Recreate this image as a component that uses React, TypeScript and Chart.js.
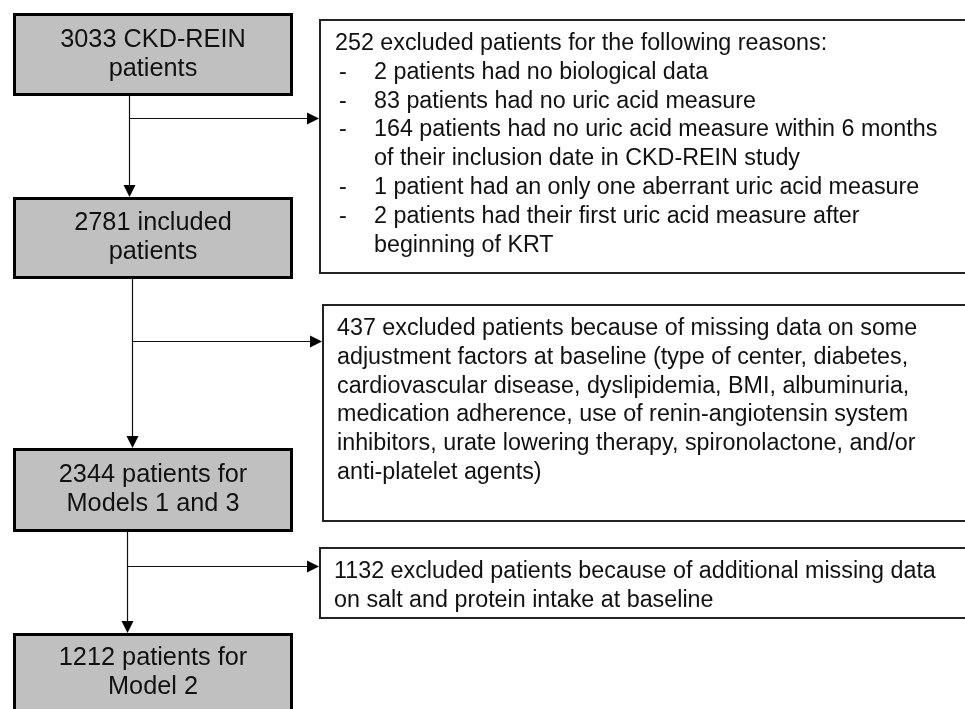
import React, { useEffect, useRef } from "react";
import { Chart, registerables } from "chart.js";

Chart.register(...registerables);

// ---- content ----
const mainBoxText: string[][] = [
  ["3033 CKD-REIN", "patients"],
  ["2781 included", "patients"],
  ["2344 patients for", "Models 1 and 3"],
  ["1212 patients for", "Model 2"],
];

// "-|" = bullet line, ">|" = indented continuation line
const exclusionText1: string[] = [
  "252 excluded patients for the following reasons:",
  "-|2 patients had no biological data",
  "-|83 patients had no uric acid measure",
  "-|164 patients had no uric acid measure within 6 months",
  ">|of their inclusion date in CKD-REIN study",
  "-|1 patient had an only one aberrant uric acid measure",
  "-|2 patients had their first uric acid measure after",
  ">|beginning of KRT",
];
const exclusionText2: string[] = [
  "437 excluded patients because of missing data on some",
  "adjustment factors at baseline (type of center, diabetes,",
  "cardiovascular disease, dyslipidemia, BMI, albuminuria,",
  "medication adherence, use of renin-angiotensin system",
  "inhibitors, urate lowering therapy, spironolactone, and/or",
  "anti-platelet agents)",
];
const exclusionText3: string[] = [
  "1132 excluded patients because of additional missing data",
  "on salt and protein intake at baseline",
];
const exclusionTexts = [exclusionText1, exclusionText2, exclusionText3];

// ---- layout (in scale units, 0..965 x 0..709) ----
const mainBoxLayout = [
  { x0: 13, x1: 293, y0: 13, y1: 96 },
  { x0: 13, x1: 293, y0: 197, y1: 279 },
  { x0: 13, x1: 293, y0: 448, y1: 532 },
  { x0: 13, x1: 293, y0: 633, y1: 713 },
];
const exclBoxLayout = [
  { x0: 319, x1: 975, y0: 19, y1: 274, tx: 335 },
  { x0: 322, x1: 975, y0: 304, y1: 522, tx: 337 },
  { x0: 319, x1: 975, y0: 547, y1: 619, tx: 334 },
];
const connectorLayout = [
  { x: 129, branchY: 118 },
  { x: 132, branchY: 341 },
  { x: 127, branchY: 566 },
];

const FONT = "'Liberation Sans', Arial, Helvetica, sans-serif";
const MAIN_FONT_SIZE = 25.3;
const EXCL_FONT_SIZE = 23.3;
const MAIN_LINE_H = 29;
const EXCL_LINE_H = 28.8;
const BULLET_DX = 4;
const INDENT_DX = 39;

const flowPlugin = {
  id: "flowchart",
  afterDraw(chart: any) {
    const ctx: CanvasRenderingContext2D = chart.ctx;
    const xs = chart.scales.x;
    const ys = chart.scales.y;
    const px = (v: number) => xs.getPixelForValue(v);
    const py = (v: number) => ys.getPixelForValue(v);

    ctx.save();

    const arrowHead = (tx: number, ty: number, dir: "down" | "right") => {
      const L = 12, W = 6;
      ctx.beginPath();
      if (dir === "down") {
        ctx.moveTo(tx, ty);
        ctx.lineTo(tx - W, ty - L);
        ctx.lineTo(tx + W, ty - L);
      } else {
        ctx.moveTo(tx, ty);
        ctx.lineTo(tx - L, ty - W);
        ctx.lineTo(tx - L, ty + W);
      }
      ctx.closePath();
      ctx.fillStyle = "#000";
      ctx.fill();
    };

    // connectors
    ctx.strokeStyle = "#111";
    ctx.lineWidth = 1.2;
    connectorLayout.forEach((c, i) => {
      const from = mainBoxLayout[i];
      const to = mainBoxLayout[i + 1];
      const ex = exclBoxLayout[i];
      const x = Math.round(px(c.x)) + 0.5;
      ctx.beginPath();
      ctx.moveTo(x, py(from.y1));
      ctx.lineTo(x, py(to.y0) - 11);
      ctx.stroke();
      arrowHead(x, py(to.y0), "down");
      const y = Math.round(py(c.branchY)) + 0.5;
      ctx.beginPath();
      ctx.moveTo(x, y);
      ctx.lineTo(px(ex.x0) - 11, y);
      ctx.stroke();
      arrowHead(px(ex.x0), y, "right");
    });

    // main (grey) boxes
    mainBoxLayout.forEach((b, i) => {
      const lw = 3;
      const x0 = px(b.x0), x1 = px(b.x1), y0 = py(b.y0), y1 = py(b.y1);
      ctx.fillStyle = "#c0c0c0";
      ctx.fillRect(x0, y0, x1 - x0, y1 - y0);
      ctx.strokeStyle = "#000";
      ctx.lineWidth = lw;
      ctx.strokeRect(x0 + lw / 2, y0 + lw / 2, x1 - x0 - lw, y1 - y0 - lw);
      const lines = mainBoxText[i];
      ctx.fillStyle = "#111";
      ctx.font = `${MAIN_FONT_SIZE}px ${FONT}`;
      ctx.textAlign = "center";
      ctx.textBaseline = "middle";
      const cx = (x0 + x1) / 2;
      const cy = (y0 + y1) / 2;
      const n = lines.length;
      lines.forEach((t, k) => {
        ctx.fillText(t, cx, cy + (k - (n - 1) / 2) * MAIN_LINE_H);
      });
    });

    // exclusion (white) boxes
    exclBoxLayout.forEach((b, i) => {
      const lw = 2;
      const x0 = px(b.x0), x1 = px(b.x1), y0 = py(b.y0), y1 = py(b.y1);
      ctx.fillStyle = "#fff";
      ctx.fillRect(x0, y0, x1 - x0, y1 - y0);
      ctx.strokeStyle = "#222";
      ctx.lineWidth = lw;
      ctx.strokeRect(x0 + lw / 2, y0 + lw / 2, x1 - x0 - lw, y1 - y0 - lw);
      ctx.fillStyle = "#111";
      ctx.font = `${EXCL_FONT_SIZE}px ${FONT}`;
      ctx.textAlign = "left";
      ctx.textBaseline = "alphabetic";
      const tx = px(b.tx);
      exclusionTexts[i].forEach((line, k) => {
        const yb = y0 + 31 + k * EXCL_LINE_H;
        if (line.startsWith("-|")) {
          ctx.fillText("-", tx + BULLET_DX, yb);
          ctx.fillText(line.slice(2), tx + INDENT_DX, yb);
        } else if (line.startsWith(">|")) {
          ctx.fillText(line.slice(2), tx + INDENT_DX, yb);
        } else {
          ctx.fillText(line, tx, yb);
        }
      });
    });

    ctx.restore();
  },
};

export default function App() {
  const ref = useRef<HTMLCanvasElement | null>(null);
  useEffect(() => {
    if (!ref.current) return;
    const chart = new Chart(ref.current, {
      type: "scatter",
      data: { datasets: [{ data: [], pointRadius: 0 }] },
      options: {
        animation: false,
        responsive: false,
        devicePixelRatio: 1,
        layout: { padding: 0 },
        plugins: { legend: { display: false }, tooltip: { enabled: false } },
        scales: {
          x: { type: "linear", min: 0, max: 965, display: false },
          y: { type: "linear", min: 0, max: 709, reverse: true, display: false },
        },
      },
      plugins: [flowPlugin],
    });
    return () => chart.destroy();
  }, []);
  return (
    <div style={{ position: "fixed", left: 0, top: 0, width: 965, height: 709, background: "#fff" }}>
      <canvas ref={ref} width={965} height={709} style={{ display: "block" }} />
    </div>
  );
}
